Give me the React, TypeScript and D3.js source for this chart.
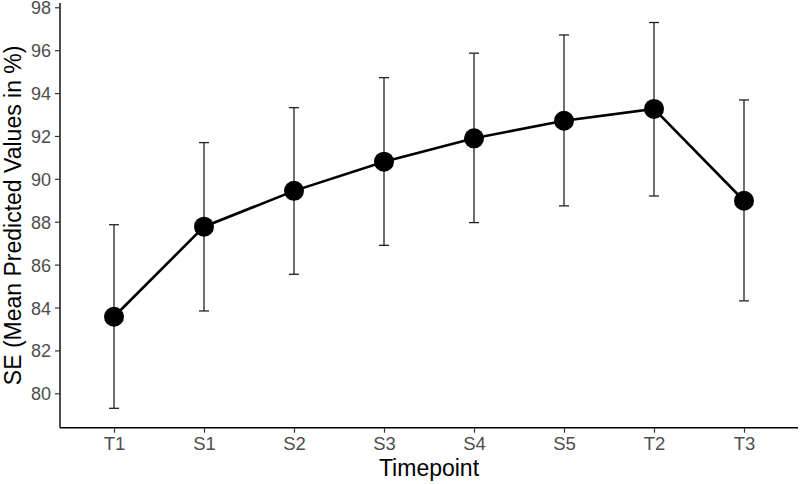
import React, { useEffect, useRef } from 'react';
import * as d3 from 'd3';

const timepoints = ['T1', 'S1', 'S2', 'S3', 'S4', 'S5', 'T2', 'T3'];
const meanValues = [83.57, 87.77, 89.44, 90.80, 91.89, 92.71, 93.26, 88.98];
const upperValues = [87.86, 91.69, 93.32, 94.72, 95.86, 96.71, 97.29, 93.68];
const lowerValues = [79.30, 83.84, 85.55, 86.90, 87.96, 88.74, 89.20, 84.31];
const yTicks = [80, 82, 84, 86, 88, 90, 92, 94, 96, 98];

const FONT = '"Liberation Sans", Arial, Helvetica, sans-serif';

const App = () => {
  const ref = useRef<SVGSVGElement | null>(null);

  useEffect(() => {
    if (!ref.current) return;
    const svg = d3.select(ref.current);
    svg.selectAll('*').remove();

    const width = 800;
    const height = 484;
    const left = 60;
    const right = 798;
    const top = 3;
    const bottom = 427.7;

    svg.attr('width', width).attr('height', height);

    const x = d3.scalePoint<string>().domain(timepoints).range([left, right]).padding(0.6);
    const y = d3.scaleLinear().domain([78.396, 98.2]).range([bottom, top]);

    const rows = timepoints.map((t, i) => ({
      t,
      mean: meanValues[i],
      hi: upperValues[i],
      lo: lowerValues[i],
    }));

    // y axis
    const yAxis = svg.append('g')
      .attr('transform', `translate(${left},0)`)
      .call(d3.axisLeft(y).tickValues(yTicks).tickSize(5).tickPadding(4).tickFormat(d3.format('d')));
    yAxis.select('.domain').attr('stroke', '#000').attr('stroke-width', 1.4)
      .attr('d', `M0,${top}V${bottom}`);
    yAxis.selectAll('.tick line').attr('stroke', '#333').attr('stroke-width', 1.2);
    yAxis.selectAll('.tick text')
      .attr('fill', '#4d4d4d')
      .attr('dy', '0.36em')
      .style('font-family', FONT)
      .style('font-size', '18px');

    // x axis
    const xAxis = svg.append('g')
      .attr('transform', `translate(0,${bottom})`)
      .call(d3.axisBottom(x).tickSize(5).tickPadding(4));
    xAxis.select('.domain').attr('stroke', '#000').attr('stroke-width', 1.4)
      .attr('d', `M${left},0H${right}`);
    xAxis.selectAll('.tick line').attr('stroke', '#333').attr('stroke-width', 1.2);
    xAxis.selectAll('.tick text')
      .attr('fill', '#4d4d4d')
      .style('font-family', FONT)
      .style('font-size', '18.5px');

    // axis titles
    svg.append('text')
      .attr('x', (left + right) / 2)
      .attr('y', 476)
      .attr('text-anchor', 'middle')
      .style('font-family', FONT)
      .style('font-size', '23px')
      .attr('fill', '#000')
      .text('Timepoint');

    svg.append('text')
      .attr('transform', `translate(21,${(top + bottom) / 2}) rotate(-90)`)
      .attr('text-anchor', 'middle')
      .style('font-family', FONT)
      .style('font-size', '23px')
      .attr('fill', '#000')
      .text('SE (Mean Predicted Values in %)');

    // error bars
    const err = svg.append('g').attr('stroke', '#222').attr('stroke-width', 1.3);
    err.selectAll('line.v')
      .data(rows)
      .join('line')
      .attr('class', 'v')
      .attr('x1', d => x(d.t)!)
      .attr('x2', d => x(d.t)!)
      .attr('y1', d => y(d.hi))
      .attr('y2', d => y(d.lo));
    err.selectAll('line.hi')
      .data(rows)
      .join('line')
      .attr('class', 'hi')
      .attr('x1', d => x(d.t)! - 5)
      .attr('x2', d => x(d.t)! + 5)
      .attr('y1', d => y(d.hi))
      .attr('y2', d => y(d.hi));
    err.selectAll('line.lo')
      .data(rows)
      .join('line')
      .attr('class', 'lo')
      .attr('x1', d => x(d.t)! - 5)
      .attr('x2', d => x(d.t)! + 5)
      .attr('y1', d => y(d.lo))
      .attr('y2', d => y(d.lo));

    // mean line
    const line = d3.line<typeof rows[number]>()
      .x(d => x(d.t)!)
      .y(d => y(d.mean));
    svg.append('path')
      .datum(rows)
      .attr('fill', 'none')
      .attr('stroke', '#000')
      .attr('stroke-width', 2.6)
      .attr('d', line);

    svg.selectAll('circle.pt')
      .data(rows)
      .join('circle')
      .attr('class', 'pt')
      .attr('cx', d => x(d.t)!)
      .attr('cy', d => y(d.mean))
      .attr('r', 10)
      .attr('fill', '#000');
  }, []);

  return (
    <svg
      ref={ref}
      style={{ position: 'absolute', left: 0, top: 0, display: 'block', background: '#fff' }}
    />
  );
};

export default App;
